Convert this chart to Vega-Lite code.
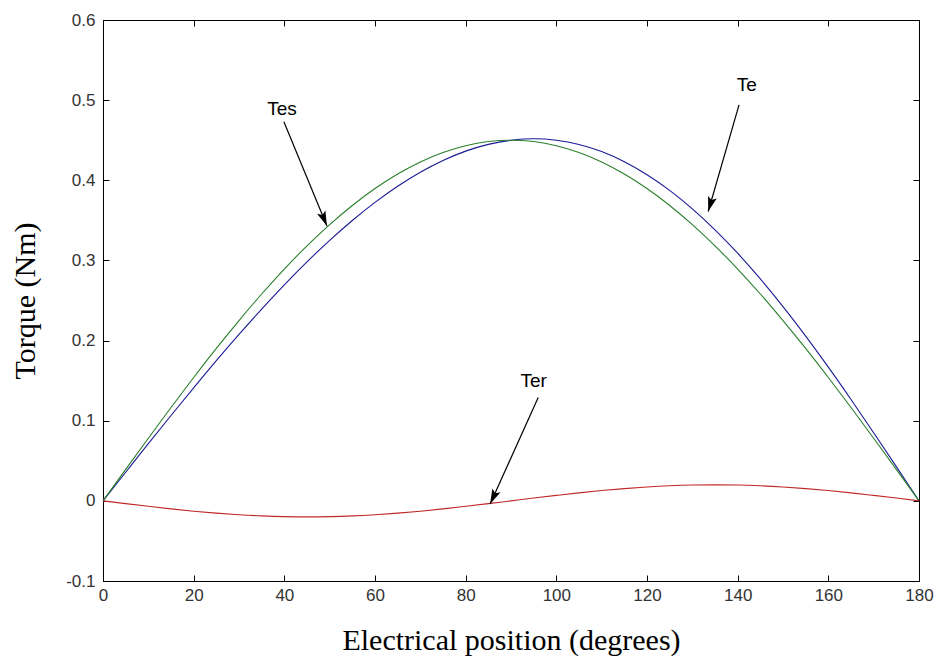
{
  "$schema": "https://vega.github.io/schema/vega-lite/v6.json",
  "width": 816,
  "height": 561,
  "autosize": {"type": "none"},
  "padding": {"left": 103, "top": 20, "right": 17, "bottom": 82},
  "background": "white",
  "config": {
    "view": {"stroke": "black", "strokeWidth": 1},
    "axis": {
      "grid": false,
      "domainColor": "black",
      "tickColor": "black",
      "tickSize": -6,
      "labelFont": "Liberation Sans",
      "labelFontSize": 17,
      "labelColor": "#333333",
      "titleFont": "Liberation Serif",
      "titleFontSize": 30,
      "titleFontWeight": "normal",
      "titleColor": "black"
    }
  },
  "datasets": {
    "curves": [
      {"theta": 0, "Tes": 0, "Ter": 0, "Te": 0},
      {"theta": 5, "Tes": 0.0392, "Ter": -0.0035, "Te": 0.0357},
      {"theta": 10, "Tes": 0.0781, "Ter": -0.0068, "Te": 0.0713},
      {"theta": 15, "Tes": 0.1165, "Ter": -0.0100, "Te": 0.1065},
      {"theta": 20, "Tes": 0.1539, "Ter": -0.0129, "Te": 0.1410},
      {"theta": 25, "Tes": 0.1902, "Ter": -0.0153, "Te": 0.1749},
      {"theta": 30, "Tes": 0.2250, "Ter": -0.0173, "Te": 0.2077},
      {"theta": 35, "Tes": 0.2581, "Ter": -0.0188, "Te": 0.2393},
      {"theta": 40, "Tes": 0.2893, "Ter": -0.0197, "Te": 0.2696},
      {"theta": 45, "Tes": 0.3182, "Ter": -0.0200, "Te": 0.2982},
      {"theta": 50, "Tes": 0.3447, "Ter": -0.0197, "Te": 0.3250},
      {"theta": 55, "Tes": 0.3686, "Ter": -0.0188, "Te": 0.3498},
      {"theta": 60, "Tes": 0.3897, "Ter": -0.0173, "Te": 0.3724},
      {"theta": 65, "Tes": 0.4078, "Ter": -0.0153, "Te": 0.3925},
      {"theta": 70, "Tes": 0.4229, "Ter": -0.0129, "Te": 0.4100},
      {"theta": 75, "Tes": 0.4347, "Ter": -0.0100, "Te": 0.4247},
      {"theta": 80, "Tes": 0.4432, "Ter": -0.0068, "Te": 0.4364},
      {"theta": 85, "Tes": 0.4483, "Ter": -0.0035, "Te": 0.4448},
      {"theta": 90, "Tes": 0.4500, "Ter": 0, "Te": 0.4500},
      {"theta": 95, "Tes": 0.4483, "Ter": 0.0035, "Te": 0.4518},
      {"theta": 100, "Tes": 0.4432, "Ter": 0.0068, "Te": 0.4500},
      {"theta": 105, "Tes": 0.4347, "Ter": 0.0100, "Te": 0.4447},
      {"theta": 110, "Tes": 0.4229, "Ter": 0.0129, "Te": 0.4358},
      {"theta": 115, "Tes": 0.4078, "Ter": 0.0153, "Te": 0.4231},
      {"theta": 120, "Tes": 0.3897, "Ter": 0.0173, "Te": 0.4070},
      {"theta": 125, "Tes": 0.3686, "Ter": 0.0188, "Te": 0.3874},
      {"theta": 130, "Tes": 0.3447, "Ter": 0.0197, "Te": 0.3644},
      {"theta": 135, "Tes": 0.3182, "Ter": 0.0200, "Te": 0.3382},
      {"theta": 140, "Tes": 0.2893, "Ter": 0.0197, "Te": 0.3090},
      {"theta": 145, "Tes": 0.2581, "Ter": 0.0188, "Te": 0.2769},
      {"theta": 150, "Tes": 0.2250, "Ter": 0.0173, "Te": 0.2423},
      {"theta": 155, "Tes": 0.1902, "Ter": 0.0153, "Te": 0.2055},
      {"theta": 160, "Tes": 0.1539, "Ter": 0.0129, "Te": 0.1668},
      {"theta": 165, "Tes": 0.1165, "Ter": 0.0100, "Te": 0.1265},
      {"theta": 170, "Tes": 0.0781, "Ter": 0.0068, "Te": 0.0849},
      {"theta": 175, "Tes": 0.0392, "Ter": 0.0035, "Te": 0.0427},
      {"theta": 180, "Tes": 0, "Ter": 0, "Te": 0}
    ],
    "arrows": [
      {"label": "Tes", "x0": 39.9, "y0": 0.473, "x1": 49.4, "y1": 0.343, "tx": 39.5, "ty": 0.489},
      {"label": "Te", "x0": 140.3, "y0": 0.494, "x1": 133.5, "y1": 0.361, "tx": 142.0, "ty": 0.519},
      {"label": "Ter", "x0": 96.0, "y0": 0.129, "x1": 85.4, "y1": -0.004, "tx": 95.0, "ty": 0.149}
    ]
  },
  "layer": [
    {
      "data": {"name": "curves"},
      "transform": [{"fold": ["Te", "Tes", "Ter"], "as": ["series", "torque"]}],
      "mark": {"type": "line", "interpolate": "monotone", "strokeWidth": 1.1},
      "encoding": {
        "x": {
          "field": "theta", "type": "quantitative",
          "scale": {"domain": [0, 180], "nice": false, "zero": false},
          "axis": {"orient": "bottom", "values": [0, 20, 40, 60, 80, 100, 120, 140, 160, 180], "labelPadding": 12, "title": "Electrical position (degrees)", "titlePadding": 22, "labelFlush": false}
        },
        "y": {
          "field": "torque", "type": "quantitative",
          "scale": {"domain": [-0.1, 0.6], "nice": false, "zero": false},
          "axis": {"orient": "left", "values": [-0.1, 0, 0.1, 0.2, 0.3, 0.4, 0.5, 0.6], "labelPadding": 14, "title": "Torque (Nm)", "titlePadding": 25, "labelFlush": false,
            "labelExpr": "'' + datum.value"}
        },
        "color": {
          "field": "series", "type": "nominal",
          "scale": {"domain": ["Te", "Tes", "Ter"], "range": ["#1a1a96", "#2a7f2a", "#c02828"]},
          "legend": null
        }
      }
    },
    {
      "data": {"name": "arrows"},
      "mark": {"type": "rule", "color": "black", "strokeWidth": 1.2},
      "encoding": {
        "x": {"field": "x0", "type": "quantitative",
          "axis": {"orient": "top", "labels": false, "title": null, "values": [0, 20, 40, 60, 80, 100, 120, 140, 160, 180]}},
        "y": {"field": "y0", "type": "quantitative",
          "axis": {"orient": "right", "labels": false, "title": null, "values": [-0.1, 0, 0.1, 0.2, 0.3, 0.4, 0.5, 0.6]}},
        "x2": {"field": "x1"},
        "y2": {"field": "y1"}
      }
    },
    {
      "data": {"name": "arrows"},
      "transform": [{"filter": "datum.label == 'Tes'"}],
      "mark": {"type": "point", "shape": "M0,0L-0.6,2L0,1.6L0.6,2Z", "filled": true, "color": "black", "opacity": 1, "size": 225, "angle": 157.5},
      "encoding": {
        "x": {"field": "x1", "type": "quantitative", "axis": null},
        "y": {"field": "y1", "type": "quantitative", "axis": null}
      }
    },
    {
      "data": {"name": "arrows"},
      "transform": [{"filter": "datum.label == 'Te'"}],
      "mark": {"type": "point", "shape": "M0,0L-0.6,2L0,1.6L0.6,2Z", "filled": true, "color": "black", "opacity": 1, "size": 225, "angle": 196.2},
      "encoding": {
        "x": {"field": "x1", "type": "quantitative", "axis": null},
        "y": {"field": "y1", "type": "quantitative", "axis": null}
      }
    },
    {
      "data": {"name": "arrows"},
      "transform": [{"filter": "datum.label == 'Ter'"}],
      "mark": {"type": "point", "shape": "M0,0L-0.6,2L0,1.6L0.6,2Z", "filled": true, "color": "black", "opacity": 1, "size": 225, "angle": 204.8},
      "encoding": {
        "x": {"field": "x1", "type": "quantitative", "axis": null},
        "y": {"field": "y1", "type": "quantitative", "axis": null}
      }
    },
    {
      "data": {"name": "arrows"},
      "mark": {"type": "text", "font": "Liberation Sans", "fontSize": 19, "color": "black", "align": "center", "baseline": "middle"},
      "encoding": {
        "x": {"field": "tx", "type": "quantitative", "axis": null},
        "y": {"field": "ty", "type": "quantitative", "axis": null},
        "text": {"field": "label"}
      }
    }
  ],
  "resolve": {"axis": {"x": "independent", "y": "independent"}}
}
